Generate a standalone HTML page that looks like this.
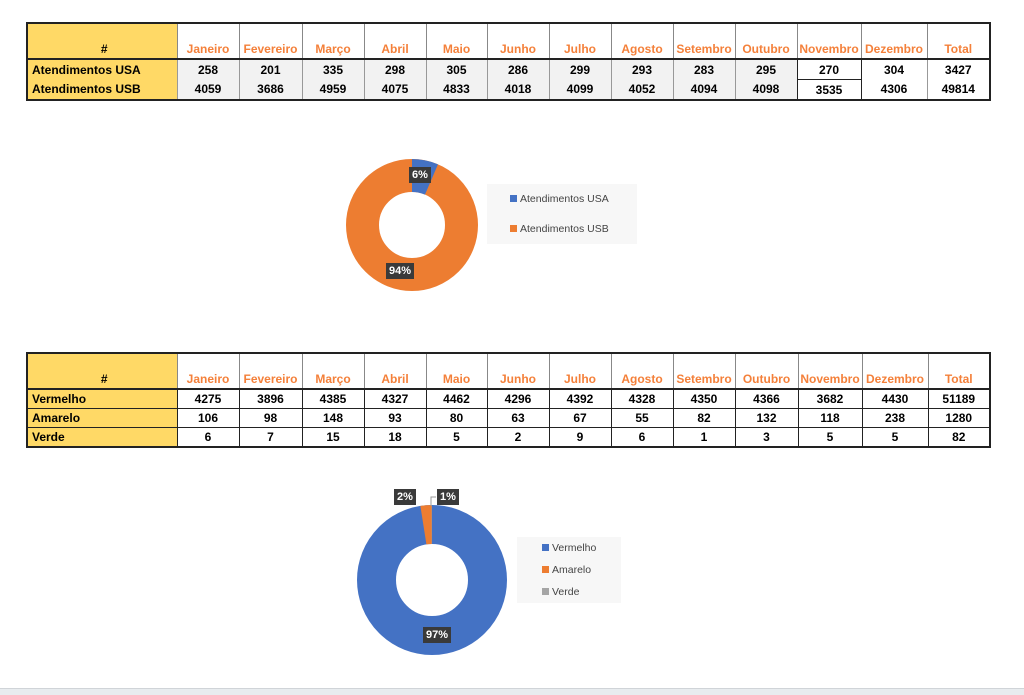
<!DOCTYPE html>
<html><head><meta charset="utf-8"><style>
body{margin:0;width:1024px;height:694px;background:#fff;position:relative;overflow:hidden;font-family:"Liberation Sans",sans-serif;}
table{position:absolute;left:26px;border-collapse:collapse;table-layout:fixed;font-size:12px;font-weight:bold;}
td{padding:0;text-align:center;overflow:hidden;white-space:nowrap;line-height:14px;}
.h td{height:32px;vertical-align:bottom;color:#F4803A;padding-bottom:2px;border-left:1px solid #888;}
.h td.f{color:#000;background:#FFD966;}
.f{background:#FFD966;text-align:left !important;padding-left:4px;}
#t1{top:22px;border:2px solid #222;}
#t1 .h td{border-bottom:2px solid #222;}
#t1 .r td{height:19px;background:#f2f2f2;border-left:1px solid #999;}
#t1 .r td.f{background:#FFD966;}
#t2{top:352px;border:2px solid #222;}
#t2 .h td{border-bottom:2px solid #222;}
#t2 .r td{height:18px;border:1px solid #222;}
.leg{position:absolute;background:#f7f7f7;font-size:10.5px;font-weight:normal;color:#444;}
.leg div{position:absolute;left:0;white-space:nowrap;}
.leg span{display:inline-block;width:7px;height:7px;margin-right:3px;}
.lab{position:absolute;background:#3a3a3a;color:#fff;font-size:11px;font-weight:bold;padding:2px 3px;}
</style></head><body>
<table id="t1">
<colgroup><col style="width:150px"><col style="width:62px"><col style="width:63px"><col style="width:62px"><col style="width:62px"><col style="width:61px"><col style="width:62px"><col style="width:62px"><col style="width:62px"><col style="width:62px"><col style="width:62px"><col style="width:64px"><col style="width:66px"><col style="width:63px"></colgroup>
<tr class="h"><td class="f" style="text-align:center!important">#</td><td>Janeiro</td><td>Fevereiro</td><td>Março</td><td>Abril</td><td>Maio</td><td>Junho</td><td>Julho</td><td>Agosto</td><td>Setembro</td><td>Outubro</td><td>Novembro</td><td>Dezembro</td><td>Total</td></tr>
<tr class="r"><td class="f">Atendimentos USA</td><td>258</td><td>201</td><td>335</td><td>298</td><td>305</td><td>286</td><td>299</td><td>293</td><td>283</td><td>295</td><td style="background:#fff;border:1px solid #222">270</td><td style="background:#fff">304</td><td style="background:#fff">3427</td></tr>
<tr class="r"><td class="f">Atendimentos USB</td><td>4059</td><td>3686</td><td>4959</td><td>4075</td><td>4833</td><td>4018</td><td>4099</td><td>4052</td><td>4094</td><td>4098</td><td style="background:#fff;border:1px solid #222">3535</td><td style="background:#fff">4306</td><td style="background:#fff">49814</td></tr>
</table>

<table id="t2">
<colgroup><col style="width:150px"><col style="width:62px"><col style="width:63px"><col style="width:62px"><col style="width:62px"><col style="width:61px"><col style="width:62px"><col style="width:62px"><col style="width:62px"><col style="width:62px"><col style="width:63px"><col style="width:64px"><col style="width:66px"><col style="width:62px"></colgroup>
<tr class="h"><td class="f" style="text-align:center!important">#</td><td>Janeiro</td><td>Fevereiro</td><td>Março</td><td>Abril</td><td>Maio</td><td>Junho</td><td>Julho</td><td>Agosto</td><td>Setembro</td><td>Outubro</td><td>Novembro</td><td>Dezembro</td><td>Total</td></tr>
<tr class="r"><td class="f">Vermelho</td><td>4275</td><td>3896</td><td>4385</td><td>4327</td><td>4462</td><td>4296</td><td>4392</td><td>4328</td><td>4350</td><td>4366</td><td>3682</td><td>4430</td><td>51189</td></tr>
<tr class="r"><td class="f">Amarelo</td><td>106</td><td>98</td><td>148</td><td>93</td><td>80</td><td>63</td><td>67</td><td>55</td><td>82</td><td>132</td><td>118</td><td>238</td><td>1280</td></tr>
<tr class="r"><td class="f">Verde</td><td>6</td><td>7</td><td>15</td><td>18</td><td>5</td><td>2</td><td>9</td><td>6</td><td>1</td><td>3</td><td>5</td><td>5</td><td>82</td></tr>
</table>

<svg style="position:absolute;left:0;top:0" width="1024" height="694">
<g transform="translate(412,225) rotate(-90)">
<circle r="49.5" fill="none" stroke="#ED7D31" stroke-width="33"/>
<circle r="49.5" fill="none" stroke="#4472C4" stroke-width="33" stroke-dasharray="20 400"/>
</g>
<g transform="translate(432,580) rotate(-90)">
<circle r="55.5" fill="none" stroke="#4472C4" stroke-width="39"/>
<circle r="55.5" fill="none" stroke="#ED7D31" stroke-width="39" stroke-dasharray="0 339.7 8.5 400"/>
<circle r="55.5" fill="none" stroke="#A5A5A5" stroke-width="39" stroke-dasharray="0 348.1 0.8 400"/>
</g>
<polyline points="431,506 431,497 436,497" fill="none" stroke="#999" stroke-width="1"/>
</svg>
<div class="lab" style="left:409px;top:167px">6%</div>
<div class="lab" style="left:386px;top:263px">94%</div>
<div class="lab" style="left:394px;top:489px">2%</div>
<div class="lab" style="left:437px;top:489px">1%</div>
<div class="lab" style="left:423px;top:627px">97%</div>
<div class="leg" style="left:487px;top:184px;width:150px;height:60px">
<div style="top:9px;left:23px"><span style="background:#4472C4"></span>Atendimentos USA</div>
<div style="top:39px;left:23px"><span style="background:#ED7D31"></span>Atendimentos USB</div>
</div>
<div class="leg" style="left:517px;top:537px;width:104px;height:66px">
<div style="top:5px;left:25px"><span style="background:#4472C4"></span>Vermelho</div>
<div style="top:27px;left:25px"><span style="background:#ED7D31"></span>Amarelo</div>
<div style="top:49px;left:25px"><span style="background:#A5A5A5"></span>Verde</div>
</div>
<div style="position:absolute;left:0;top:688px;width:1024px;height:6px;background:#e8ecef;border-top:1px solid #d0d4d8"></div>
</body></html>
